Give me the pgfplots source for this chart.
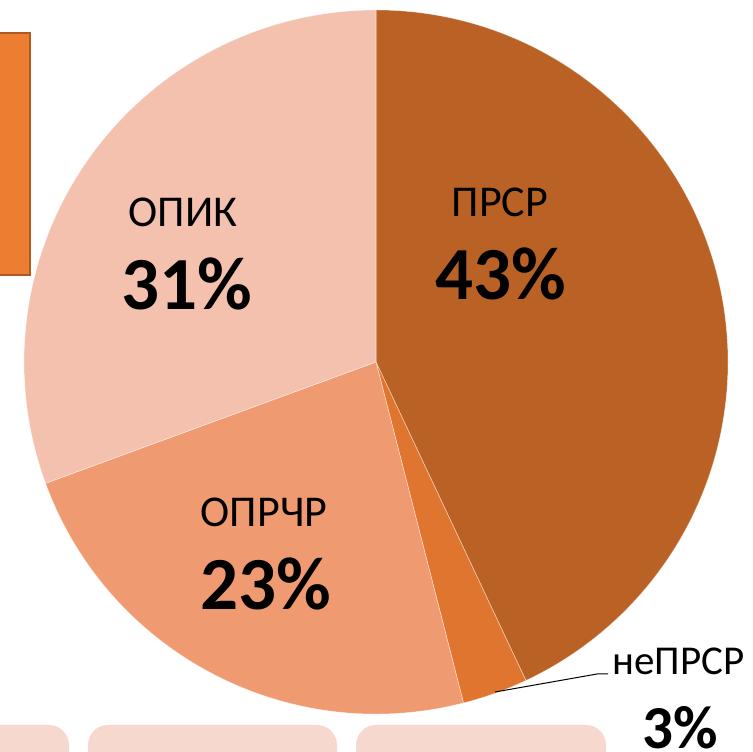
\documentclass[border=0pt]{standalone}
\usepackage{pgfplots}
\usepackage{pgfplotstable}
\pgfplotsset{compat=1.18}
\usepackage{fontspec}
\setmainfont{Carlito}
\definecolor{slice0}{HTML}{BA6225}
\definecolor{slice1}{HTML}{E07530}
\definecolor{slice2}{HTML}{F09A72}
\definecolor{slice3}{HTML}{F4C1AE}
\definecolor{boxfill}{HTML}{ED7D31}
\definecolor{boxline}{HTML}{AE5A21}
\definecolor{tabfill}{HTML}{F7D8CE}

\pgfplotstableread{
value
43.0
3.0
23.4
30.6
}\piedata

\begin{document}
\begin{tikzpicture}
\gdef\cum{0}
\pgfplotstableforeachcolumnelement{value}\of\piedata\as\v{%
  \pgfmathsetmacro\s{90-3.6*\cum}%
  \pgfmathsetmacro\e{90-3.6*(\cum+\v)}%
  \expandafter\xdef\csname sA\pgfplotstablerow\endcsname{\s}%
  \expandafter\xdef\csname eA\pgfplotstablerow\endcsname{\e}%
  \pgfmathsetmacro\newcum{\cum+\v}%
  \xdef\cum{\newcum}%
}
\begin{axis}[hide axis, x=1pt, y=1pt, xmin=0, xmax=753, ymin=0, ymax=752,
  scale only axis, clip=false]
% background shapes
\fill[boxfill, draw=boxline, line width=2pt] (axis cs:-5,477) rectangle (axis cs:30,719);
\fill[tabfill, rounded corners=20pt] (axis cs:-40,-30) rectangle (axis cs:69,27);
\fill[tabfill, rounded corners=20pt] (axis cs:88,-30) rectangle (axis cs:337,27);
\fill[tabfill, rounded corners=20pt] (axis cs:356,-30) rectangle (axis cs:606,27);
% pie slices
\pgfplotsinvokeforeach{0,1,2,3}{
  \fill[fill=slice#1, draw=white, draw opacity=0.5, line width=0.6pt]
    (axis cs:376,390) -- ++(\csname sA#1\endcsname:352pt)
    arc[start angle=\csname sA#1\endcsname, end angle=\csname eA#1\endcsname, radius=352pt] -- cycle;
}
% leader line
\draw[black, line width=1pt] (axis cs:495,60) -- (axis cs:597,78) -- (axis cs:608,78);
% labels
\node[anchor=base, inner sep=0pt, font=\fontsize{44}{50}\selectfont] at (axis cs:500,535) {ПРСР};
\node[anchor=base, inner sep=0pt, font=\fontsize{75}{80}\selectfont\bfseries] at (axis cs:501,452) {43\%};
\node[anchor=base, inner sep=0pt, font=\fontsize{44}{50}\selectfont] at (axis cs:183,525) {ОПИК};
\node[anchor=base, inner sep=0pt, font=\fontsize{75}{80}\selectfont\bfseries] at (axis cs:187,442) {31\%};
\node[anchor=base, inner sep=0pt, font=\fontsize{44}{50}\selectfont] at (axis cs:264,225) {ОПРЧР};
\node[anchor=base, inner sep=0pt, font=\fontsize{75}{80}\selectfont\bfseries] at (axis cs:266,142) {23\%};
\node[anchor=base west, inner sep=0pt, font=\fontsize{41}{46}\selectfont] at (axis cs:612,77) {неПРСР};
\node[anchor=base, inner sep=0pt, font=\fontsize{61}{66}\selectfont\bfseries] at (axis cs:680,3.5) {3\%};
\end{axis}
\pgfresetboundingbox
\path (current axis.south west) rectangle (current axis.north east);
\end{tikzpicture}
\end{document}
